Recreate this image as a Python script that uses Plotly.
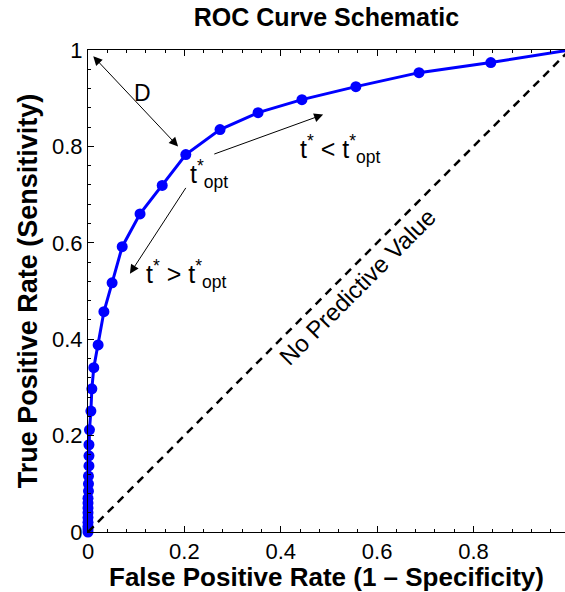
import plotly.graph_objects as go

fpr = [0, 0, 0, 0, 0, 0, 0, 0, 0, 0.001, 0.001, 0.001, 0.002, 0.002, 0.002, 0.003,
       0.006, 0.008, 0.012, 0.021, 0.033, 0.050, 0.071, 0.108, 0.154, 0.203, 0.274,
       0.353, 0.444, 0.556, 0.687, 0.836, 1.0]
tpr = [0, 0.006, 0.012, 0.02, 0.03, 0.04, 0.05, 0.06, 0.07, 0.085, 0.10, 0.116, 0.137,
       0.158, 0.181, 0.212, 0.251, 0.297, 0.341, 0.388, 0.457, 0.517, 0.592, 0.660,
       0.719, 0.783, 0.835, 0.870, 0.897, 0.924, 0.953, 0.974, 1.0]
diag_x = [0, 1]
diag_y = [0, 1]

x_ticks = [0, 0.2, 0.4, 0.6, 0.8, 1]
x_ticklabels = ["0", "0.2", "0.4", "0.6", "0.8", "1"]
y_ticks = [0, 0.2, 0.4, 0.6, 0.8, 1]
y_ticklabels = ["0", "0.2", "0.4", "0.6", "0.8", "1"]

FONT = "Liberation Sans, Arial, Helvetica, sans-serif"

fig = go.Figure()
fig.add_trace(go.Scatter(
    x=fpr, y=tpr, mode="lines+markers",
    line=dict(color="#0000FF", width=3),
    marker=dict(color="#0000FF", size=11),
    cliponaxis=False, showlegend=False, hoverinfo="skip"))
fig.add_trace(go.Scatter(
    x=diag_x, y=diag_y, mode="lines",
    line=dict(color="black", width=2.5, dash="8px,6px"),
    showlegend=False, hoverinfo="skip"))

tsym = "t<sup>*</sup>"
topt = "t<sup>*</sup><sub>opt</sub>"

ann = []
# D double arrow
ann.append(dict(x=0.187, y=0.80, ax=0.008, ay=0.99, xref="x", yref="y", axref="x", ayref="y",
                showarrow=True, arrowhead=2, startarrowhead=2, arrowside="end+start",
                arrowwidth=1, arrowsize=1.8, startarrowsize=1.8, arrowcolor="black", text=""))
ann.append(dict(x=0.114, y=0.911, xref="x", yref="y", text="D", showarrow=False,
                font=dict(size=23, color="black", family=FONT)))
# arrow to the right
ann.append(dict(x=0.488, y=0.866, ax=0.259, ay=0.783, xref="x", yref="y", axref="x", ayref="y",
                showarrow=True, arrowhead=2, arrowwidth=1, arrowsize=1.8, arrowcolor="black", text=""))
# arrow down-left
ann.append(dict(x=0.087, y=0.536, ax=0.205, ay=0.717, xref="x", yref="y", axref="x", ayref="y",
                showarrow=True, arrowhead=2, arrowwidth=1, arrowsize=1.8, arrowcolor="black", text=""))
# labels
ann.append(dict(x=0.252, y=0.742, xref="x", yref="y", text=topt, showarrow=False,
                font=dict(size=25, color="black", family=FONT)))
ann.append(dict(x=0.522, y=0.795, xref="x", yref="y", text=tsym + " < " + topt, showarrow=False,
                font=dict(size=25, color="black", family=FONT)))
ann.append(dict(x=0.204, y=0.535, xref="x", yref="y", text=tsym + " > " + topt, showarrow=False,
                font=dict(size=25, color="black", family=FONT)))
ann.append(dict(x=0.56, y=0.509, xref="x", yref="y", text="No Predictive Value", showarrow=False,
                textangle=-45, font=dict(size=24, color="black", family=FONT)))

fig.update_layout(
    width=565, height=592,
    margin=dict(l=88, r=0, t=50, b=60),
    paper_bgcolor="white", plot_bgcolor="white",
    font=dict(family=FONT, color="black"),
    title=dict(text="<b>ROC Curve Schematic</b>", x=0.5, xref="paper",
               y=1 - 17 / 592, yref="container", yanchor="middle", xanchor="center",
               font=dict(size=25, color="black", family=FONT)),
    annotations=ann,
)
fig.update_xaxes(
    range=[0, 0.99], tickvals=x_ticks, ticktext=x_ticklabels,
    showgrid=False, zeroline=False, showline=True, linecolor="black", linewidth=1,
    mirror="ticks", ticks="inside", ticklen=6, tickcolor="black",
    minor=dict(dtick=0.04, tick0=0, ticks="inside", ticklen=3, tickcolor="black"),
    tickfont=dict(size=22, color="black", family=FONT),
    title=dict(text="<b>False Positive Rate (1 – Specificity)</b>", standoff=3,
               font=dict(size=26, color="black", family=FONT)))
fig.update_yaxes(
    range=[0, 1], tickvals=y_ticks, ticktext=y_ticklabels,
    showgrid=False, zeroline=False, showline=True, linecolor="black", linewidth=1,
    mirror=False, ticks="inside", ticklen=6, tickcolor="black",
    minor=dict(dtick=0.04, tick0=0, ticks="inside", ticklen=3, tickcolor="black"),
    tickfont=dict(size=22, color="black", family=FONT),
    title=dict(text="<b>True Positive Rate (Sensitivity)</b>", standoff=6,
               font=dict(size=27, color="black", family=FONT)))

fig.write_html("out.html")
